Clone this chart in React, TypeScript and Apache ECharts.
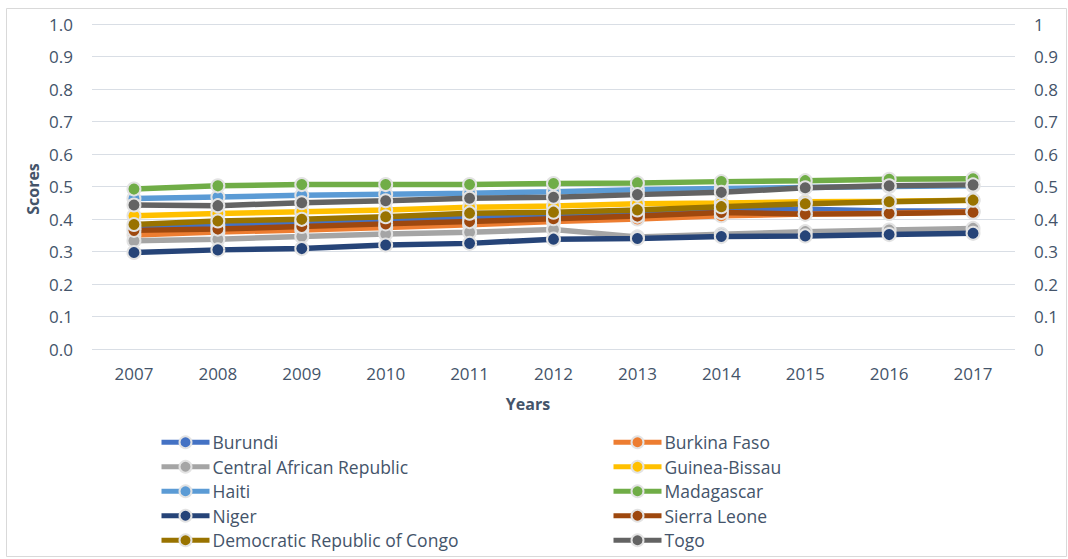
import React, { useEffect, useRef } from "react";
import * as echarts from "echarts";

const years = ["2007", "2008", "2009", "2010", "2011", "2012", "2013", "2014", "2015", "2016", "2017"];

const burundi = [0.372, 0.38, 0.39, 0.399, 0.405, 0.41, 0.418, 0.428, 0.43, 0.425, 0.425];
const burkinaFaso = [0.351, 0.36, 0.366, 0.374, 0.382, 0.392, 0.4, 0.41, 0.415, 0.418, 0.422];
const centralAfricanRepublic = [0.333, 0.338, 0.346, 0.354, 0.359, 0.368, 0.345, 0.353, 0.361, 0.366, 0.371];
const guineaBissau = [0.41, 0.417, 0.422, 0.428, 0.436, 0.44, 0.447, 0.449, 0.453, 0.455, 0.458];
const haiti = [0.463, 0.468, 0.473, 0.476, 0.479, 0.484, 0.49, 0.494, 0.497, 0.5, 0.502];
const madagascar = [0.492, 0.502, 0.506, 0.506, 0.506, 0.509, 0.511, 0.515, 0.518, 0.522, 0.524];
const niger = [0.297, 0.305, 0.309, 0.32, 0.325, 0.338, 0.34, 0.346, 0.348, 0.352, 0.356];
const sierraLeone = [0.365, 0.369, 0.377, 0.385, 0.392, 0.401, 0.409, 0.42, 0.415, 0.417, 0.421];
const drc = [0.383, 0.394, 0.399, 0.407, 0.418, 0.421, 0.428, 0.438, 0.447, 0.453, 0.458];
const togo = [0.443, 0.441, 0.45, 0.456, 0.464, 0.467, 0.475, 0.482, 0.496, 0.502, 0.505];

const seriesDefs: [string, number[], string][] = [
  ["Burundi", burundi, "#4472C4"],
  ["Burkina Faso", burkinaFaso, "#ED7D31"],
  ["Central African Republic", centralAfricanRepublic, "#A5A5A5"],
  ["Guinea-Bissau", guineaBissau, "#FFC000"],
  ["Haiti", haiti, "#5B9BD5"],
  ["Madagascar", madagascar, "#70AD47"],
  ["Niger", niger, "#264478"],
  ["Sierra Leone", sierraLeone, "#9E480E"],
  ["Democratic Republic of Congo", drc, "#997300"],
  ["Togo", togo, "#636363"],
];

const leftLegend = ["Burundi", "Central African Republic", "Haiti", "Niger", "Democratic Republic of Congo"];
const rightLegend = ["Burkina Faso", "Guinea-Bissau", "Madagascar", "Sierra Leone", "Togo"];

const FONT = "'Open Sans', 'Noto Sans', sans-serif";
const TEXT = "#44546A";

export default function App() {
  const ref = useRef<HTMLDivElement>(null);
  useEffect(() => {
    document.body.style.margin = "0";
    const chart = echarts.init(ref.current!, undefined, { renderer: "svg" });
    const legendCommon = {
      orient: "vertical" as const,
      top: 430,
      height: 200,
      padding: 0,
      itemWidth: 48,
      itemHeight: 15,
      itemGap: 0,
      lineStyle: { width: 5 },
      textStyle: {
        color: TEXT,
        fontSize: 17.5,
        fontFamily: FONT,
        lineHeight: 24.5,
        padding: [0, 0, 0, -2],
      },
      selectedMode: false,
    };
    chart.setOption({
      animation: false,
      backgroundColor: "#ffffff",
      textStyle: { fontFamily: FONT },
      grid: { left: 92, right: 53, top: 24, bottom: 210, containLabel: false },
      legend: [
        { ...legendCommon, left: 159, data: leftLegend },
        { ...legendCommon, left: 611, data: rightLegend },
      ],
      graphic: [
        {
          type: "rect",
          shape: { x: 6.5, y: 8.5, width: 1060, height: 548 },
          style: { fill: "none", stroke: "#D9D9D9", lineWidth: 1 },
          silent: true,
        },
        {
          type: "text",
          x: 33,
          y: 189,
          rotation: Math.PI / 2,
          style: {
            text: "Scores",
            fill: TEXT,
            font: `bold 16px ${FONT}`,
            align: "center",
            verticalAlign: "middle",
          },
        },
        {
          type: "text",
          x: 528,
          y: 404,
          style: {
            text: "Years",
            fill: TEXT,
            font: `bold 16px ${FONT}`,
            align: "center",
            verticalAlign: "middle",
          },
        },
      ],
      xAxis: {
        type: "category",
        data: years,
        boundaryGap: true,
        axisLine: { show: false },
        axisTick: { show: false },
        axisLabel: { color: TEXT, fontSize: 17, fontFamily: FONT, margin: 16 },
      },
      yAxis: [
        {
          type: "value",
          min: 0,
          max: 1,
          interval: 0.1,
          position: "left",
          axisLine: { show: false },
          axisTick: { show: false },
          splitLine: { lineStyle: { color: "#D9DEE5", width: 1 } },
          axisLabel: {
            color: TEXT,
            fontSize: 17,
            fontFamily: FONT,
            margin: 19,
            formatter: (v: number) => v.toFixed(1),
          },
        },
        {
          type: "value",
          min: 0,
          max: 1,
          interval: 0.1,
          position: "right",
          axisLine: { show: false },
          axisTick: { show: false },
          splitLine: { show: false },
          axisLabel: {
            color: TEXT,
            fontSize: 17,
            fontFamily: FONT,
            margin: 19,
            formatter: (v: number) => String(Math.round(v * 10) / 10),
          },
        },
      ],
      series: seriesDefs.map(([name, data, color]) => ({
        name,
        type: "line",
        data,
        yAxisIndex: 0,
        symbol: "circle",
        symbolSize: 13,
        showSymbol: true,
        lineStyle: { color, width: 5.5 },
        itemStyle: { color, borderColor: "#E3E3E3", borderWidth: 2 },
        emphasis: { disabled: true },
      })),
    });
    return () => chart.dispose();
  }, []);
  return <div ref={ref} style={{ width: 1068, height: 559 }} />;
}
